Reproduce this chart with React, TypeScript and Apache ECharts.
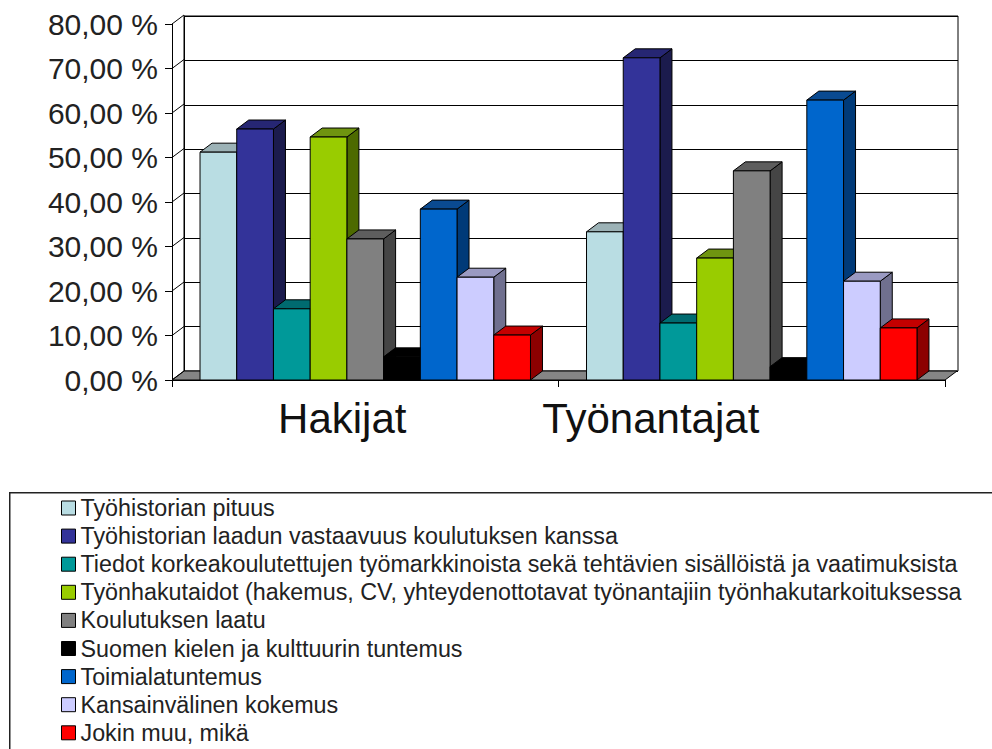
import React, { useEffect, useRef } from "react";
import * as echarts from "echarts";

const categories = ["Hakijat", "Työnantajat"];
const seriesNames = [
  "Työhistorian pituus",
  "Työhistorian laadun vastaavuus koulutuksen kanssa",
  "Tiedot korkeakoulutettujen työmarkkinoista sekä tehtävien sisällöistä ja vaatimuksista",
  "Työnhakutaidot (hakemus, CV, yhteydenottotavat työnantajiin työnhakutarkoituksessa",
  "Koulutuksen laatu",
  "Suomen kielen ja kulttuurin tuntemus",
  "Toimialatuntemus",
  "Kansainvälinen kokemus",
  "Jokin muu, mikä",
];
const hakijatValues = [51.2, 56.4, 16.0, 54.6, 31.7, 5.2, 38.4, 23.1, 10.1];
const tyonantajatValues = [33.3, 72.4, 12.8, 27.4, 47.0, 3.0, 62.9, 22.2, 11.7];
const yTickValues = [0, 10, 20, 30, 40, 50, 60, 70, 80];

const frontColors = ["#b9dde3", "#333399", "#009999", "#99cc00", "#808080", "#000000", "#0066cc", "#ccccff", "#ff0000"];
const topColors = ["#9cb2b6", "#262673", "#006b70", "#6f9410", "#5e5e5e", "#000000", "#0a4a91", "#9a9ac2", "#c40000"];
const sideColors = ["#7a8f92", "#1b1b4d", "#005155", "#4d6a00", "#454545", "#000000", "#003a78", "#70708f", "#8c0000"];

const DX = 12;
const DY = 9;
const GROUP_RATIO = 0.855;

function barRender(idx: number) {
  return (params: any, api: any) => {
    const cat = api.value(0);
    const val = api.value(1);
    const band = api.size([1, 0])[0];
    const base = api.coord([cat, 0]);
    const top = api.coord([cat, val]);
    const groupW = band * GROUP_RATIO;
    const w = groupW / seriesNames.length;
    const x0 = base[0] - groupW / 2 + idx * w;
    const yb = base[1];
    const yt = top[1];
    const stroke = { stroke: "#000", lineWidth: 1 };
    return {
      type: "group",
      children: [
        {
          type: "polygon",
          shape: { points: [[x0 + w, yt], [x0 + w + DX, yt - DY], [x0 + w + DX, yb - DY], [x0 + w, yb]] },
          style: { fill: sideColors[idx], ...stroke },
        },
        {
          type: "polygon",
          shape: { points: [[x0, yt], [x0 + DX, yt - DY], [x0 + w + DX, yt - DY], [x0 + w, yt]] },
          style: { fill: topColors[idx], ...stroke },
        },
        {
          type: "rect",
          shape: { x: x0, y: yt, width: w, height: yb - yt },
          style: { fill: frontColors[idx], ...stroke },
        },
      ],
    };
  };
}

const LABEL_FONT = "'Liberation Sans', Arial, sans-serif";

export default function App() {
  const ref = useRef<HTMLDivElement>(null);
  useEffect(() => {
    if (!ref.current) return;
    const chart = echarts.init(ref.current, null, { renderer: "svg" });
    const bars = seriesNames.map((name, i) => ({
      name,
      type: "custom",
      xAxisIndex: 0,
      yAxisIndex: 0,
      itemStyle: { color: frontColors[i] },
      renderItem: barRender(i),
      data: [
        [0, hakijatValues[i]],
        [1, tyonantajatValues[i]],
      ],
      z: 3,
    }));
    const option: any = {
      animation: false,
      backgroundColor: "#ffffff",
      grid: [
        { left: 172, right: 47, top: 24, bottom: 369, containLabel: false },
        { left: 184, right: 34, top: 16, bottom: 378, show: true, borderColor: "#000", borderWidth: 1, backgroundColor: "transparent" },
      ],
      xAxis: [
        {
          type: "category",
          gridIndex: 0,
          data: categories,
          boundaryGap: true,
          axisLine: { lineStyle: { color: "#000", width: 1 } },
          axisTick: { show: true, length: 7, lineStyle: { color: "#000" } },
          axisLabel: {
            margin: 17,
            formatter: (v: string) => (v === "Hakijat" ? `{a|${v}}` : `{b|${v}}`),
            rich: {
              a: { fontSize: 42, lineHeight: 42, color: "#111", fontFamily: LABEL_FONT, padding: [0, 46, 0, 0] },
              b: { fontSize: 42, lineHeight: 42, color: "#111", fontFamily: LABEL_FONT, padding: [0, 202, 0, 0] },
            },
          },
          splitLine: { show: false },
        },
        {
          type: "category",
          gridIndex: 1,
          data: categories,
          axisLine: { show: false },
          axisTick: { show: false },
          axisLabel: { show: false },
          splitLine: { show: false },
        },
      ],
      yAxis: [
        {
          type: "value",
          gridIndex: 0,
          min: 0,
          max: 80,
          interval: 10,
          axisLine: { show: true, lineStyle: { color: "#000", width: 1 } },
          axisTick: { show: true, length: 7, lineStyle: { color: "#000" } },
          axisLabel: {
            margin: 14,
            fontSize: 30,
            color: "#222",
            fontFamily: LABEL_FONT,
            formatter: (v: number) => v.toFixed(2).replace(".", ",") + " %",
          },
          splitLine: { show: false },
        },
        {
          type: "value",
          gridIndex: 1,
          min: 0,
          max: 80,
          interval: 10,
          axisLine: { show: true, lineStyle: { color: "#000", width: 1 } },
          axisTick: { show: false },
          axisLabel: { show: false },
          splitLine: { show: true, lineStyle: { color: "#000", width: 1 } },
        },
      ],
      legend: {
        orient: "vertical",
        left: 61,
        top: 496.5,
        height: 300,
        padding: 0,
        itemWidth: 14,
        itemHeight: 14,
        itemGap: 5.1,
        icon: "rect",
        itemStyle: { borderColor: "#000", borderWidth: 1 },
        textStyle: { fontSize: 23.3, lineHeight: 23, color: "#222", fontFamily: LABEL_FONT },
        data: seriesNames,
      },
      graphic: [
        {
          type: "rect",
          left: 9,
          top: 492,
          shape: { width: 1000, height: 300 },
          style: { fill: "transparent", stroke: "#222", lineWidth: 1.5 },
          z: 0,
        },
      ],
      series: [
        {
          type: "custom",
          name: "floor",
          xAxisIndex: 0,
          yAxisIndex: 0,
          data: [[0, 0]],
          z: 2,
          renderItem: (params: any) => {
            const cs = params.coordSys;
            const yb = cs.y + cs.height;
            return {
              type: "polygon",
              shape: { points: [[cs.x, yb], [cs.x + cs.width, yb], [cs.x + cs.width + DX, yb - DY], [cs.x + DX, yb - DY]] },
              style: { fill: "#858585", stroke: "#000", lineWidth: 1 },
            };
          },
        },
        {
          type: "custom",
          name: "sidewall",
          xAxisIndex: 0,
          yAxisIndex: 0,
          data: yTickValues.map((v) => [0, v]),
          z: 2,
          renderItem: (params: any, api: any) => {
            const cs = params.coordSys;
            const y = api.coord([0, api.value(1)])[1];
            return {
              type: "line",
              shape: { x1: cs.x, y1: y, x2: cs.x + DX, y2: y - DY },
              style: { stroke: "#000", lineWidth: 1 },
            };
          },
        },
        ...bars,
      ],
    };
    chart.setOption(option);
    return () => chart.dispose();
  }, []);
  return <div ref={ref} style={{ position: "fixed", left: 0, top: 0, width: 992, height: 749, background: "#fff" }} />;
}
